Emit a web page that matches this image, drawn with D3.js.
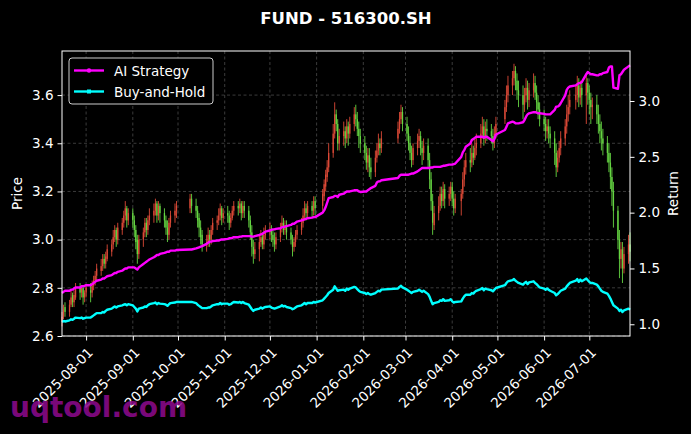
<!DOCTYPE html>
<html>
<head>
<meta charset="utf-8">
<script src="https://cdn.jsdelivr.net/npm/d3@7"></script>
<style>
  html, body { margin: 0; padding: 0; background: #000; }
  svg { display: block; }
  text { font-family: "DejaVu Sans", sans-serif; }
</style>
</head>
<body>
<svg id="chart" width="691" height="434"></svg>
<script>
// exchange holidays (weekdays with no bar)
const closedDays = [
  '2025-10-01', '2025-10-02', '2025-10-03', '2025-10-06', '2025-10-07', '2025-10-08',
  '2026-01-01', '2026-01-02',
  '2026-02-16', '2026-02-17', '2026-02-18', '2026-02-19', '2026-02-20', '2026-02-23',
  '2026-04-06', '2026-05-01', '2026-05-04', '2026-05-05', '2026-06-19',
];

// daily OHLC, one row per week
const openPrice = [
  2.66, 2.68, 2.72,
  2.70, 2.73, 2.77, 2.74, 2.76,  2.80, 2.78, 2.80, 2.76, 2.78,  2.79, 2.78, 2.81, 2.83, 2.85,
  2.87, 2.89, 2.92, 2.90, 2.92,  2.95, 2.98, 3.01, 3.04, 3.00,  3.04, 3.07, 3.10, 3.13, 3.08,
  3.11, 3.08, 3.04, 3.00, 2.94,  3.00, 3.03, 3.07, 3.04, 3.08,  3.10, 3.12, 3.15, 3.10, 3.14,
  3.11, 3.08, 3.05, 3.02, 3.07,  3.10, 3.12,  3.13, 3.17,
  3.14, 3.12, 3.09, 3.05, 3.02,  2.98, 2.99, 3.02, 3.00, 3.04,  3.07, 3.08, 3.10, 3.13, 3.09,
  3.11, 3.10, 3.07, 3.09, 3.12,  3.14, 3.13, 3.15, 3.11, 3.14,  3.12, 3.08, 3.03, 2.97, 2.94,
  2.96, 2.99, 3.01, 2.98, 3.02,  3.03, 3.04, 3.02, 3.00, 2.98,  3.01, 3.05, 3.07, 3.04, 3.06,
  3.03, 3.00, 2.97, 2.99, 3.02,  3.04, 3.07, 3.10, 3.13, 3.11,  3.14, 3.12, 3.16,
  3.14, 3.18, 3.22, 3.26, 3.30,  3.36, 3.44, 3.52, 3.48, 3.40,  3.43, 3.45, 3.42, 3.47, 3.44,
  3.48, 3.52, 3.50, 3.46, 3.43,  3.40, 3.36, 3.32, 3.35, 3.30,  3.28, 3.34, 3.37, 3.40, 3.38,
  3.42, 3.46, 3.50, 3.53,
  3.48, 3.44, 3.40, 3.36, 3.33,  3.38, 3.41, 3.43, 3.38, 3.36,  3.39, 3.33, 3.25, 3.16, 3.06,
  3.11, 3.14, 3.19, 3.16, 3.21,  3.17, 3.19, 3.22, 3.17, 3.13,  3.16, 3.19, 3.25, 3.30,
  3.33, 3.32, 3.36, 3.34, 3.38,  3.40, 3.44, 3.47, 3.42, 3.46,  3.45, 3.43, 3.40, 3.44,
  3.50, 3.55, 3.60,
  3.64, 3.67, 3.70, 3.66, 3.62,  3.60, 3.56, 3.60, 3.63, 3.58,  3.62, 3.65, 3.61, 3.57, 3.54,
  3.50, 3.48, 3.45, 3.47, 3.44,  3.42, 3.36, 3.30, 3.34, 3.38,  3.42, 3.47, 3.52, 3.55,
  3.58, 3.60, 3.64, 3.59, 3.63,  3.60, 3.65, 3.61, 3.58, 3.55,  3.56, 3.52, 3.48, 3.45, 3.42,
  3.40, 3.36, 3.32, 3.26, 3.20,  3.12, 3.00, 2.92, 2.96, 2.88,  2.94, 2.98,
];
const highPrice = [
  2.70, 2.73, 2.74,
  2.75, 2.79, 2.78, 2.79, 2.82,  2.82, 2.81, 2.81, 2.79, 2.81,  2.82, 2.83, 2.85, 2.87, 2.90,
  2.92, 2.94, 2.94, 2.95, 2.98,  3.00, 3.04, 3.06, 3.05, 3.07,  3.09, 3.12, 3.16, 3.14, 3.13,
  3.13, 3.10, 3.06, 3.02, 3.02,  3.05, 3.09, 3.09, 3.10, 3.13,  3.15, 3.17, 3.16, 3.16, 3.15,
  3.13, 3.10, 3.08, 3.09, 3.12,  3.15, 3.16,  3.19, 3.19,
  3.17, 3.14, 3.11, 3.08, 3.04,  3.02, 3.05, 3.04, 3.06, 3.09,  3.10, 3.13, 3.15, 3.14, 3.13,
  3.14, 3.12, 3.11, 3.14, 3.16,  3.16, 3.17, 3.16, 3.16, 3.16,  3.14, 3.10, 3.06, 3.00, 2.99,
  3.02, 3.04, 3.03, 3.05, 3.06,  3.07, 3.06, 3.04, 3.03, 3.03,  3.07, 3.10, 3.09, 3.08, 3.08,
  3.05, 3.02, 3.01, 3.04, 3.06,  3.09, 3.13, 3.16, 3.15, 3.16,  3.16, 3.18, 3.18,
  3.21, 3.25, 3.29, 3.33, 3.40,  3.48, 3.57, 3.54, 3.50, 3.46,  3.49, 3.47, 3.50, 3.49, 3.51,
  3.55, 3.56, 3.53, 3.49, 3.46,  3.43, 3.39, 3.38, 3.38, 3.34,  3.37, 3.40, 3.44, 3.42, 3.45,
  3.49, 3.53, 3.56, 3.55,
  3.51, 3.47, 3.43, 3.39, 3.40,  3.44, 3.46, 3.45, 3.41, 3.42,  3.42, 3.36, 3.28, 3.19, 3.14,
  3.18, 3.22, 3.22, 3.24, 3.23,  3.22, 3.24, 3.24, 3.20, 3.19,  3.21, 3.28, 3.33, 3.36,
  3.38, 3.40, 3.39, 3.42, 3.44,  3.48, 3.51, 3.50, 3.49, 3.50,  3.48, 3.46, 3.47, 3.51,
  3.58, 3.64, 3.68,
  3.70, 3.73, 3.72, 3.69, 3.66,  3.64, 3.63, 3.67, 3.66, 3.65,  3.69, 3.68, 3.64, 3.60, 3.57,
  3.54, 3.51, 3.50, 3.50, 3.47,  3.45, 3.40, 3.37, 3.41, 3.45,  3.50, 3.56, 3.60, 3.62,
  3.64, 3.68, 3.67, 3.66, 3.65,  3.69, 3.67, 3.64, 3.61, 3.59,  3.60, 3.56, 3.52, 3.49, 3.46,
  3.43, 3.40, 3.36, 3.30, 3.24,  3.14, 3.04, 2.99, 2.99, 2.97,  3.02, 3.03,
];
const lowPrice = [
  2.64, 2.67, 2.68,
  2.68, 2.72, 2.72, 2.72, 2.75,  2.75, 2.76, 2.73, 2.74, 2.76,  2.74, 2.76, 2.79, 2.81, 2.83,
  2.85, 2.87, 2.88, 2.88, 2.91,  2.93, 2.96, 2.99, 2.97, 2.98,  3.02, 3.05, 3.08, 3.05, 3.06,
  3.05, 3.01, 2.96, 2.90, 2.92,  2.97, 3.01, 3.01, 3.02, 3.06,  3.07, 3.10, 3.07, 3.08, 3.07,
  3.05, 3.02, 2.99, 3.00, 3.05,  3.07, 3.09,  3.11, 3.11,
  3.09, 3.05, 3.01, 2.98, 2.95,  2.95, 2.97, 2.97, 2.98, 3.02,  3.04, 3.06, 3.08, 3.06, 3.07,
  3.07, 3.04, 3.05, 3.08, 3.10,  3.10, 3.11, 3.08, 3.09, 3.09,  3.05, 3.00, 2.93, 2.90, 2.92,
  2.91, 2.97, 2.96, 2.96, 3.00,  3.00, 2.99, 2.97, 2.95, 2.96,  2.99, 3.03, 3.02, 3.02, 3.00,
  2.98, 2.93, 2.95, 2.97, 3.00,  3.02, 3.05, 3.08, 3.08, 3.09,  3.09, 3.10, 3.10,
  3.12, 3.16, 3.20, 3.24, 3.28,  3.34, 3.42, 3.45, 3.37, 3.37,  3.39, 3.38, 3.40, 3.39, 3.42,
  3.45, 3.47, 3.43, 3.38, 3.36,  3.33, 3.29, 3.28, 3.26, 3.25,  3.26, 3.32, 3.35, 3.35, 3.36,
  3.40, 3.44, 3.48, 3.45,
  3.41, 3.37, 3.33, 3.30, 3.31,  3.35, 3.38, 3.35, 3.31, 3.33,  3.30, 3.21, 3.12, 3.02, 3.04,
  3.08, 3.12, 3.13, 3.14, 3.13,  3.14, 3.16, 3.14, 3.10, 3.11,  3.10, 3.17, 3.22, 3.27,
  3.28, 3.30, 3.31, 3.33, 3.35,  3.38, 3.42, 3.39, 3.40, 3.41,  3.40, 3.37, 3.38, 3.42,
  3.48, 3.53, 3.57,
  3.60, 3.64, 3.62, 3.58, 3.55,  3.50, 3.53, 3.57, 3.54, 3.55,  3.59, 3.58, 3.53, 3.50, 3.47,
  3.45, 3.41, 3.42, 3.40, 3.38,  3.31, 3.26, 3.28, 3.32, 3.35,  3.39, 3.44, 3.49, 3.52,
  3.54, 3.57, 3.55, 3.56, 3.55,  3.48, 3.56, 3.52, 3.48, 3.50,  3.48, 3.44, 3.40, 3.37, 3.35,
  3.32, 3.28, 3.21, 3.14, 3.05,  2.96, 2.84, 2.88, 2.82, 2.86,  2.90, 2.91,
];
const closePrice = [
  2.68, 2.71, 2.70,
  2.73, 2.76, 2.74, 2.77, 2.80,  2.78, 2.80, 2.76, 2.78, 2.80,  2.78, 2.81, 2.83, 2.85, 2.88,
  2.89, 2.92, 2.90, 2.93, 2.96,  2.98, 3.01, 3.04, 3.00, 3.05,  3.07, 3.10, 3.13, 3.08, 3.11,
  3.08, 3.04, 2.99, 2.94, 3.00,  3.03, 3.07, 3.04, 3.08, 3.10,  3.12, 3.15, 3.10, 3.14, 3.11,
  3.08, 3.05, 3.02, 3.07, 3.10,  3.12, 3.14,  3.17, 3.14,
  3.12, 3.08, 3.05, 3.01, 2.98,  2.99, 3.02, 3.00, 3.04, 3.07,  3.08, 3.10, 3.13, 3.09, 3.11,
  3.10, 3.07, 3.09, 3.12, 3.14,  3.13, 3.15, 3.11, 3.14, 3.12,  3.08, 3.03, 2.97, 2.94, 2.96,
  2.99, 3.01, 2.98, 3.02, 3.03,  3.04, 3.02, 3.00, 2.98, 3.01,  3.05, 3.07, 3.04, 3.06, 3.03,
  3.00, 2.97, 2.99, 3.02, 3.04,  3.07, 3.10, 3.13, 3.11, 3.14,  3.12, 3.16, 3.13,
  3.19, 3.23, 3.27, 3.30, 3.36,  3.44, 3.52, 3.48, 3.40, 3.43,  3.45, 3.42, 3.47, 3.44, 3.48,
  3.52, 3.50, 3.46, 3.43, 3.40,  3.36, 3.32, 3.35, 3.30, 3.28,  3.34, 3.37, 3.40, 3.38, 3.42,
  3.46, 3.50, 3.53, 3.48,
  3.44, 3.40, 3.36, 3.33, 3.38,  3.41, 3.43, 3.38, 3.36, 3.39,  3.33, 3.25, 3.16, 3.07, 3.11,
  3.14, 3.19, 3.16, 3.21, 3.17,  3.19, 3.22, 3.17, 3.13, 3.17,  3.19, 3.25, 3.30, 3.33,
  3.32, 3.36, 3.34, 3.38, 3.40,  3.44, 3.47, 3.42, 3.46, 3.45,  3.43, 3.40, 3.44, 3.48,
  3.55, 3.60, 3.64,
  3.67, 3.70, 3.66, 3.62, 3.60,  3.56, 3.60, 3.63, 3.58, 3.62,  3.65, 3.61, 3.57, 3.54, 3.50,
  3.48, 3.45, 3.47, 3.44, 3.42,  3.36, 3.30, 3.34, 3.38, 3.42,  3.47, 3.52, 3.55, 3.58,
  3.60, 3.64, 3.59, 3.63, 3.60,  3.65, 3.61, 3.58, 3.55, 3.56,  3.52, 3.48, 3.45, 3.42, 3.40,
  3.36, 3.32, 3.26, 3.20, 3.12,  3.00, 2.92, 2.96, 2.88, 2.94,  2.98, 2.95,
];

// cumulative return curves (right axis)
const aiReturn = [
  1.28, 1.29, 1.30,
  1.30, 1.31, 1.31, 1.32, 1.33,  1.33, 1.34, 1.34, 1.345, 1.35,  1.35, 1.36, 1.37, 1.38, 1.39,
  1.40, 1.41, 1.41, 1.42, 1.43,  1.44, 1.45, 1.46, 1.46, 1.47,  1.48, 1.49, 1.50, 1.50, 1.51,
  1.51, 1.51, 1.50, 1.49, 1.51,  1.54, 1.55, 1.56, 1.57, 1.58,  1.60, 1.61, 1.62, 1.62, 1.63,
  1.64, 1.645, 1.65, 1.65, 1.66,  1.66, 1.665,  1.67, 1.67,
  1.68, 1.685, 1.69, 1.695, 1.70,  1.72, 1.73, 1.74, 1.74, 1.745,  1.75, 1.75, 1.755, 1.76, 1.76,
  1.765, 1.77, 1.77, 1.775, 1.78,  1.78, 1.785, 1.785, 1.79, 1.79,  1.79, 1.79, 1.785, 1.785, 1.79,
  1.80, 1.805, 1.81, 1.82, 1.83,  1.84, 1.845, 1.85, 1.85, 1.855,  1.86, 1.87, 1.87, 1.875, 1.88,
  1.89, 1.90, 1.90, 1.91, 1.92,  1.93, 1.935, 1.94, 1.945, 1.95,  1.955, 1.96, 1.96,
  2.00, 2.02, 2.05, 2.09, 2.13,  2.14, 2.15, 2.15, 2.14, 2.16,  2.17, 2.18, 2.19, 2.19, 2.19,
  2.20, 2.20, 2.20, 2.19, 2.185,  2.19, 2.19, 2.20, 2.21, 2.22,  2.24, 2.27, 2.28, 2.28, 2.29,
  2.31, 2.33, 2.34, 2.34,
  2.34, 2.34, 2.345, 2.35, 2.35,  2.37, 2.38, 2.39, 2.40, 2.40,  2.40, 2.40, 2.405, 2.405, 2.41,
  2.41, 2.41, 2.415, 2.42, 2.42,  2.43, 2.43, 2.43, 2.435, 2.44,  2.50, 2.54, 2.56, 2.59,
  2.62, 2.65, 2.66, 2.67, 2.68,  2.68, 2.68, 2.67, 2.68, 2.68,  2.65, 2.64, 2.66, 2.70,
  2.74, 2.77, 2.80,
  2.815, 2.81, 2.80, 2.80, 2.80,  2.81, 2.83, 2.86, 2.88, 2.89,  2.90, 2.90, 2.895, 2.89, 2.89,
  2.885, 2.88, 2.88, 2.88, 2.88,  2.92, 2.95, 2.95, 2.96, 2.98,  3.05, 3.10, 3.12, 3.13,
  3.14, 3.15, 3.16, 3.16, 3.17,  3.24, 3.26, 3.25, 3.24, 3.24,  3.23, 3.23, 3.24, 3.24, 3.25,
  3.26, 3.30, 3.31, 3.31, 3.12,  3.11, 3.23, 3.24, 3.26, 3.28,  3.31, 3.32,
];
const holdReturn = [
  1.02, 1.03, 1.025,
  1.035, 1.045, 1.04, 1.05, 1.06,  1.055, 1.06, 1.05, 1.055, 1.06,  1.06, 1.07, 1.08, 1.09, 1.10,
  1.10, 1.11, 1.105, 1.12, 1.13,  1.14, 1.15, 1.16, 1.15, 1.16,  1.17, 1.175, 1.18, 1.17, 1.18,
  1.17, 1.155, 1.14, 1.115, 1.14,  1.15, 1.16, 1.155, 1.17, 1.18,  1.19, 1.195, 1.18, 1.19, 1.185,
  1.18, 1.175, 1.165, 1.18, 1.19,  1.195, 1.20,  1.20, 1.20,
  1.19, 1.175, 1.165, 1.155, 1.145,  1.145, 1.15, 1.15, 1.16, 1.17,  1.18, 1.18, 1.19, 1.18, 1.185,
  1.185, 1.175, 1.18, 1.19, 1.20,  1.195, 1.20, 1.19, 1.20, 1.19,  1.175, 1.155, 1.135, 1.12, 1.13,
  1.14, 1.15, 1.14, 1.15, 1.155,  1.16, 1.15, 1.145, 1.14, 1.145,  1.16, 1.17, 1.16, 1.165, 1.155,
  1.145, 1.135, 1.14, 1.15, 1.16,  1.17, 1.18, 1.19, 1.18, 1.19,  1.19, 1.20, 1.195,
  1.215, 1.23, 1.245, 1.26, 1.28,  1.31, 1.34, 1.32, 1.30, 1.305,  1.31, 1.30, 1.32, 1.31, 1.32,
  1.335, 1.33, 1.315, 1.30, 1.29,  1.28, 1.27, 1.28, 1.27, 1.265,  1.28, 1.29, 1.30, 1.295, 1.31,
  1.32, 1.335, 1.345, 1.33,
  1.31, 1.30, 1.29, 1.28, 1.29,  1.30, 1.31, 1.30, 1.29, 1.30,  1.27, 1.245, 1.21, 1.18, 1.19,
  1.20, 1.215, 1.21, 1.225, 1.21,  1.215, 1.225, 1.205, 1.195, 1.20,  1.205, 1.23, 1.25, 1.265,
  1.265, 1.28, 1.275, 1.29, 1.30,  1.315, 1.325, 1.305, 1.32, 1.315,  1.305, 1.295, 1.31, 1.325,
  1.35, 1.37, 1.385,
  1.395, 1.405, 1.39, 1.38, 1.37,  1.355, 1.37, 1.38, 1.36, 1.375,  1.385, 1.37, 1.36, 1.345, 1.33,
  1.32, 1.31, 1.32, 1.31, 1.30,  1.28, 1.26, 1.27, 1.285, 1.30,  1.32, 1.34, 1.355, 1.37,
  1.39, 1.405, 1.38, 1.40, 1.385,  1.41, 1.395, 1.38, 1.37, 1.37,  1.355, 1.34, 1.32, 1.30, 1.29,
  1.275, 1.255, 1.23, 1.20, 1.17,  1.14, 1.12, 1.13, 1.11, 1.125,  1.14, 1.13,
];

const priceTicks = [2.6, 2.8, 3.0, 3.2, 3.4, 3.6];
const returnTicks = [1.0, 1.5, 2.0, 2.5, 3.0];
const chartTitle = 'FUND - 516300.SH';

const W = 691, H = 434;
const plot = { left: 62, right: 630, top: 51, bottom: 336 };
const UP = '#f0503c', DOWN = '#6ee848';

const fmtDay = d3.timeFormat('%Y-%m-%d');
const firstDay = new Date(2025, 6, 16), lastDay = new Date(2026, 6, 28);

const tradingDays = [];
for (let d = new Date(firstDay); d <= lastDay; d.setDate(d.getDate() + 1)) {
  const dow = d.getDay();
  if (dow === 0 || dow === 6 || closedDays.includes(fmtDay(d))) continue;
  tradingDays.push(new Date(d));
}

const bars = tradingDays.map((date, i) => ({
  date, o: openPrice[i], h: highPrice[i], l: lowPrice[i], c: closePrice[i],
  ai: aiReturn[i], hold: holdReturn[i],
})).filter(b => b.c != null);

const svg = d3.select('#chart');
svg.append('rect').attr('width', W).attr('height', H).attr('fill', '#000');

const x = d3.scaleTime().domain([firstDay, lastDay]).range([plot.left, plot.right]);
const yPrice = d3.scaleLinear().domain([2.6, 3.783]).range([plot.bottom, plot.top]);
const yRet = d3.scaleLinear().domain([0.895, 3.448]).range([plot.bottom, plot.top]);
const monthTicks = d3.timeMonth.range(new Date(2025, 7, 1), new Date(2026, 7, 1));

// grid
const grid = svg.append('g').attr('stroke', '#4a4a4a').attr('stroke-width', 0.8).attr('stroke-dasharray', '3,2.5');
grid.selectAll('.gx').data(monthTicks).join('line')
  .attr('x1', d => x(d)).attr('x2', d => x(d)).attr('y1', plot.top).attr('y2', plot.bottom);
grid.selectAll('.gy').data(priceTicks).join('line')
  .attr('x1', plot.left).attr('x2', plot.right).attr('y1', d => yPrice(d)).attr('y2', d => yPrice(d));

// candles
const candles = svg.append('g').attr('opacity', 0.92);
candles.selectAll('line').data(bars).join('line')
  .attr('x1', d => x(d.date)).attr('x2', d => x(d.date))
  .attr('y1', d => yPrice(d.h)).attr('y2', d => yPrice(d.l))
  .attr('stroke', d => d.c >= d.o ? UP : DOWN).attr('stroke-width', 0.9);
candles.selectAll('rect').data(bars).join('rect')
  .attr('x', d => x(d.date) - 0.65).attr('width', 1.3)
  .attr('y', d => yPrice(Math.max(d.o, d.c)))
  .attr('height', d => Math.max(0.8, Math.abs(yPrice(d.o) - yPrice(d.c))))
  .attr('fill', d => d.c >= d.o ? UP : DOWN);

// return lines
const lineAi = d3.line().x(d => x(d.date)).y(d => yRet(d.ai));
const lineHold = d3.line().x(d => x(d.date)).y(d => yRet(d.hold));
svg.append('path').datum(bars).attr('d', lineHold)
  .attr('fill', 'none').attr('stroke', '#00ffff').attr('stroke-width', 2.4).attr('stroke-linejoin', 'round');
svg.append('path').datum(bars).attr('d', lineAi)
  .attr('fill', 'none').attr('stroke', '#ff00ff').attr('stroke-width', 2.4).attr('stroke-linejoin', 'round');

// frame
svg.append('rect').attr('x', plot.left).attr('y', plot.top)
  .attr('width', plot.right - plot.left).attr('height', plot.bottom - plot.top)
  .attr('fill', 'none').attr('stroke', '#fff').attr('stroke-width', 1);

// axes
const styleAxis = g => {
  g.select('.domain').remove();
  g.selectAll('.tick line').attr('stroke', '#fff');
  g.selectAll('.tick text').attr('fill', '#fff').attr('font-size', 13.5).attr('font-family', '"DejaVu Sans", sans-serif');
};
svg.append('g').attr('transform', `translate(${plot.left},0)`)
  .call(d3.axisLeft(yPrice).tickValues(priceTicks).tickFormat(d3.format('.1f')).tickSize(4.5).tickPadding(4))
  .call(styleAxis);
svg.append('g').attr('transform', `translate(${plot.right},0)`)
  .call(d3.axisRight(yRet).tickValues(returnTicks).tickFormat(d3.format('.1f')).tickSize(4.5).tickPadding(4))
  .call(styleAxis);
const xAxis = svg.append('g').attr('transform', `translate(0,${plot.bottom})`)
  .call(d3.axisBottom(x).tickValues(monthTicks).tickFormat(fmtDay).tickSize(4.5).tickPadding(4))
  .call(styleAxis);
xAxis.selectAll('.tick text')
  .attr('text-anchor', 'end').attr('dy', '0.35em').attr('y', 0)
  .attr('transform', 'translate(4,14) rotate(-45)');

// axis titles
svg.append('text').attr('transform', `translate(22,${(plot.top + plot.bottom) / 2}) rotate(-90)`)
  .attr('text-anchor', 'middle').attr('fill', '#fff').attr('font-size', 13.5).text('Price');
svg.append('text').attr('transform', `translate(678,${(plot.top + plot.bottom) / 2}) rotate(-90)`)
  .attr('text-anchor', 'middle').attr('fill', '#fff').attr('font-size', 13.5).text('Return');

// title
svg.append('text').attr('x', 346).attr('y', 24).attr('text-anchor', 'middle')
  .attr('fill', '#fff').attr('font-size', 16.5).attr('font-weight', 'bold').text(chartTitle);

// legend
const legend = svg.append('g').attr('transform', 'translate(69,58)');
legend.append('rect').attr('width', 144).attr('height', 46).attr('rx', 3)
  .attr('fill', '#000').attr('stroke', '#cccccc').attr('stroke-width', 1);
const legendItems = [
  { label: 'AI Strategy', color: '#ff00ff', marker: 'circle' },
  { label: 'Buy-and-Hold', color: '#00ffff', marker: 'square' },
];
legendItems.forEach((item, i) => {
  const cy = 12.5 + i * 21;
  legend.append('line').attr('x1', 5).attr('x2', 35).attr('y1', cy).attr('y2', cy)
    .attr('stroke', item.color).attr('stroke-width', 2.4);
  if (item.marker === 'circle') {
    legend.append('circle').attr('cx', 20).attr('cy', cy).attr('r', 2.2).attr('fill', item.color);
  } else {
    legend.append('rect').attr('x', 18).attr('y', cy - 2).attr('width', 4).attr('height', 4).attr('fill', item.color);
  }
  legend.append('text').attr('x', 45).attr('y', cy + 5).attr('fill', '#fff')
    .attr('font-size', 13.5).text(item.label);
});

// watermark
svg.append('text').attr('x', 10).attr('y', 417).attr('fill', '#8b0a8b').attr('fill-opacity', 0.9)
  .attr('font-size', 28).attr('font-weight', 'bold').text('uqtool.com');
</script>
</body>
</html>
